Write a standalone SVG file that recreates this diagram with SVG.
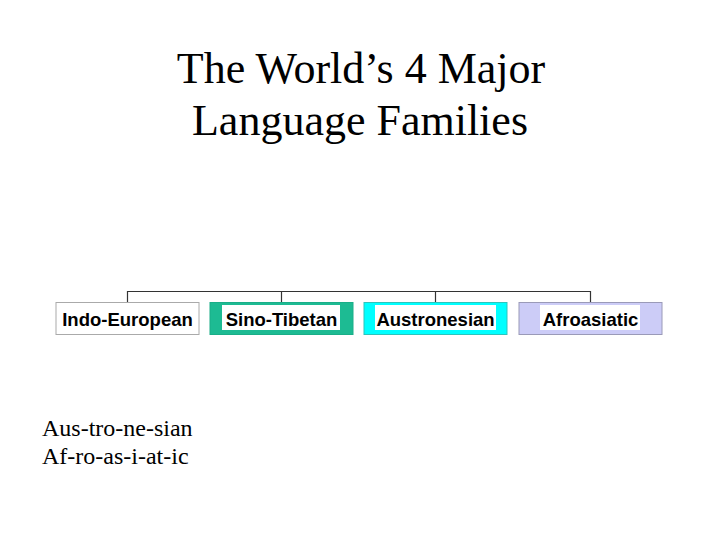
<svg xmlns="http://www.w3.org/2000/svg" width="720" height="540" viewBox="0 0 720 540">
<style>
.title{font-family:"Liberation Serif","Times New Roman",serif;font-size:44px;fill:#000;text-anchor:middle}
.note{font-family:"Liberation Serif","Times New Roman",serif;font-size:24px;fill:#000}
.lbl{font-family:"Liberation Sans",Arial,sans-serif;font-size:18.5px;font-weight:bold;fill:#000;text-anchor:middle}
.conn{stroke:#333;stroke-width:1.2;fill:none}
.bg{fill:#fff}
</style>
<rect width="720" height="540" fill="#fff"/>
<g id="title">
<text class="title" x="361" y="83">The World’s 4 Major</text>
<text class="title" x="360" y="135">Language Families</text>
</g>
<g id="connectors">
<path class="conn" d="M127.5 291.5 H590.5 M127.5 291 V302 M281.5 291 V302 M435.5 291 V302 M590.5 291 V302"/>
</g>
<g id="indo-european">
<rect x="56" y="302.5" width="143" height="32" fill="#fff" stroke="#aaa" stroke-width="1"/>
<text class="lbl" x="127.5" y="326">Indo-European</text>
</g>
<g id="sino-tibetan">
<rect x="210" y="302.5" width="143" height="32" fill="#1DBB93" stroke="#1AAE88" stroke-width="1"/>
<rect class="bg" x="222" y="305" width="118" height="25"/>
<text class="lbl" x="281.5" y="326">Sino-Tibetan</text>
</g>
<g id="austronesian">
<rect x="364" y="302.5" width="143" height="32" fill="#00FFFF" stroke="#2CC4BC" stroke-width="1"/>
<rect class="bg" x="375" y="305" width="121" height="25"/>
<text class="lbl" x="435.5" y="326">Austronesian</text>
</g>
<g id="afroasiatic">
<rect x="519" y="302.5" width="143" height="32" fill="#CCCCF7" stroke="#9A9AB8" stroke-width="1"/>
<rect class="bg" x="540" y="305" width="100" height="25"/>
<text class="lbl" x="590.5" y="326">Afroasiatic</text>
</g>
<g id="notes">
<text class="note" x="42" y="436">Aus-tro-ne-sian</text>
<text class="note" x="42" y="464">Af-ro-as-i-at-ic</text>
</g>
</svg>
